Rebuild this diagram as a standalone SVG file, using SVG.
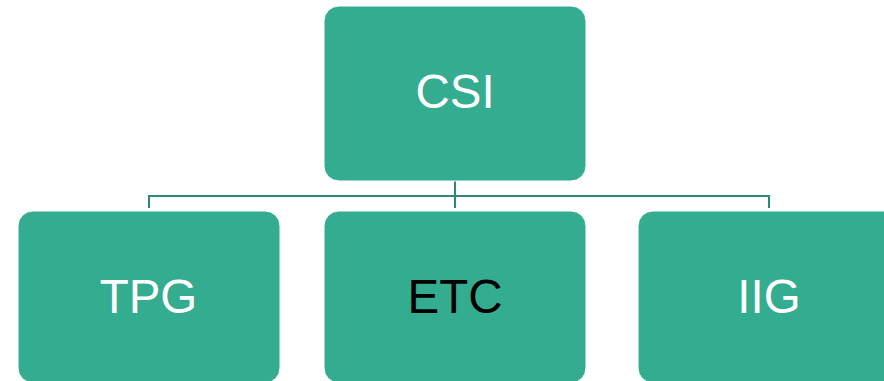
<svg xmlns="http://www.w3.org/2000/svg" width="884" height="381" viewBox="0 0 884 381">
<style>
.box{fill:#34ac8f;stroke:#ffffff;stroke-width:1}
.lbl{font-family:"Liberation Sans",Arial,sans-serif;font-size:47.5px;text-anchor:middle}
.w{fill:#ffffff}
.k{fill:#000000}
.conn{fill:none;stroke:#2a8a72;stroke-width:2}
</style>
<rect width="884" height="381" fill="#ffffff"/>
<g id="connectors">
<path class="conn" d="M455 181V208M149 208V196H769V208"/>
</g>
<g id="CSI">
<rect class="box" x="324" y="6" width="262" height="175" rx="15"/>
<text class="lbl w" x="455" y="108">CSI</text>
</g>
<g id="TPG">
<rect class="box" x="18" y="211" width="262" height="172" rx="15"/>
<text class="lbl w" x="148.5" y="313">TPG</text>
</g>
<g id="ETC">
<rect class="box" x="324" y="211" width="262" height="172" rx="15"/>
<text class="lbl k" x="455" y="313">ETC</text>
</g>
<g id="IIG">
<rect class="box" x="638" y="211" width="262" height="172" rx="15"/>
<text class="lbl w" x="769" y="313">IIG</text>
</g>
</svg>
